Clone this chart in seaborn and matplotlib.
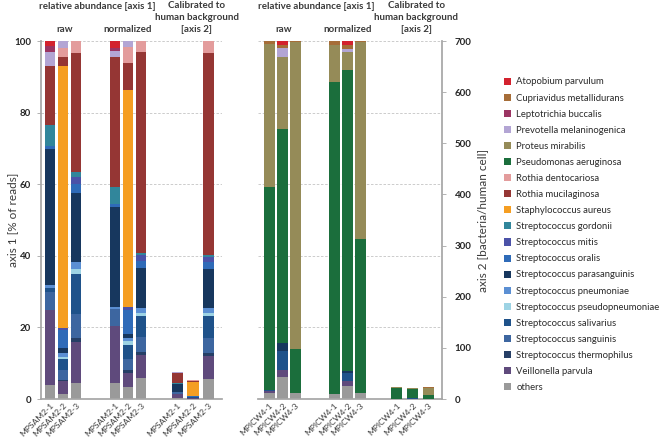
import numpy as np
import pandas as pd
import matplotlib
matplotlib.use("Agg")
import matplotlib.pyplot as plt
from matplotlib.patches import Patch
import seaborn as sns

# legend order (top of the stack first)
taxa = ["Atopobium parvulum", "Cupriavidus metallidurans", "Leptotrichia buccalis",
        "Prevotella melaninogenica", "Proteus mirabilis", "Pseudomonas aeruginosa",
        "Rothia dentocariosa", "Rothia mucilaginosa", "Staphylococcus aureus",
        "Streptococcus gordonii", "Streptococcus mitis", "Streptococcus oralis",
        "Streptococcus parasanguinis", "Streptococcus pneumoniae",
        "Streptococcus pseudopneumoniae", "Streptococcus salivarius",
        "Streptococcus sanguinis", "Streptococcus thermophilus",
        "Veillonella parvula", "others"]
colors = ["#d3222e", "#a66d38", "#9b3462", "#b3a5d4", "#958b58", "#1b6e3c",
          "#e39c9c", "#953634", "#f59e22", "#31869b", "#4b52a8", "#2f6bb8",
          "#17375e", "#5b8fd3", "#9dd3e4", "#1f528a", "#3d66a0", "#263f66",
          "#5f4a7c", "#9a9a9a"]

sam_labels = ["MPSAM2-1", "MPSAM2-2", "MPSAM2-3"]
icw_labels = ["MPICW4-1", "MPICW4-2", "MPICW4-3"]

# values per sample, same order as taxa
# MPSAM2, relative abundance (% of reads)
sam_raw_1 = [1.4, 0, 1.8, 3.8, 0, 0, 0, 16.6, 0, 5.8, 0, 0.9, 37.9, 0.8, 0, 1.0, 5.0, 0, 21.2, 3.8]
sam_raw_2 = [0, 0, 0, 2.0, 0, 0, 2.6, 2.3, 73.2, 0, 0.6, 5.0, 1.5, 1.0, 0.7, 3.0, 2.8, 0.4, 3.6, 1.3]
sam_raw_3 = [0, 0, 0, 0, 0, 0, 3.4, 33.3, 0, 1.2, 2.1, 2.5, 19.1, 2.2, 1.3, 11.2, 6.8, 1.1, 11.2, 4.6]
sam_norm_1 = [2.0, 0, 0.7, 1.9, 0, 0, 0, 36.3, 0, 4.6, 0, 0.8, 28.1, 0.5, 0, 0, 4.7, 0, 15.8, 4.6]
sam_norm_2 = [0, 0, 0, 1.6, 0, 0, 4.5, 7.6, 60.7, 0, 0.6, 6.9, 1.0, 0.9, 1.1, 4.0, 3.0, 0.7, 4.1, 3.3]
sam_norm_3 = [0, 0, 0, 0, 0, 0, 3.0, 56.1, 0, 0.6, 1.8, 2.0, 11.2, 1.2, 0.8, 6.1, 4.0, 0.9, 6.5, 5.8]
# MPSAM2, calibrated (bacteria / human cell)
sam_cal_1 = [1.0, 0, 0.5, 1.0, 0, 0, 0, 20.0, 0, 2.0, 0, 0.4, 15.5, 0.3, 0, 0, 2.5, 0, 8.5, 2.0]
sam_cal_2 = [0, 0, 0, 0.5, 0, 0, 1.5, 2.5, 27.0, 0, 0, 2.5, 0, 0.4, 0, 1.5, 0.8, 0, 0.8, 0.5]
sam_cal_3 = [0, 0, 0, 0, 0, 0, 23, 395, 0, 5, 10, 12, 78, 9, 6, 43, 29, 6, 44, 40]

# MPICW4, relative abundance (% of reads)
icw_raw_1 = [0, 0.8, 0, 0, 39.9, 56.8, 0, 0, 0, 0, 0, 0, 0, 0, 0, 0.3, 0, 0, 0.4, 1.8]
icw_raw_2 = [1.1, 0.8, 0, 2.5, 20.3, 59.7, 0, 0, 0, 0, 0, 0, 2.1, 0, 0, 5.4, 0, 0, 1.9, 6.2]
icw_raw_3 = [0, 0.4, 0, 0, 85.7, 12.3, 0, 0, 0, 0, 0, 0, 0, 0, 0, 0, 0, 0, 0, 1.6]
icw_norm_1 = [0, 1.1, 0, 0, 10.4, 87.1, 0, 0, 0, 0, 0, 0, 0, 0, 0, 0, 0, 0, 0, 1.4]
icw_norm_2 = [1.1, 1.2, 0, 0.9, 4.9, 84.0, 0, 0, 0, 0, 0, 0, 0.7, 0, 0, 2.3, 0, 0, 1.2, 3.7]
icw_norm_3 = [0, 0.4, 0, 0, 55.0, 42.8, 0, 0, 0, 0, 0, 0, 0, 0, 0, 0, 0, 0, 0, 1.8]
# MPICW4, calibrated (bacteria / human cell)
icw_cal_1 = [0, 0.7, 0, 0, 2.5, 20.5, 0, 0, 0, 0, 0, 0, 0, 0, 0, 0, 0, 0, 0, 0.3]
icw_cal_2 = [0.3, 0.3, 0, 0.2, 1.1, 18.3, 0, 0, 0, 0, 0, 0, 0.2, 0, 0, 0.5, 0, 0, 0.2, 0.7]
icw_cal_3 = [0, 1.2, 0, 0, 13.5, 7.5, 0, 0, 0, 0, 0, 0, 0, 0, 0, 0, 0, 0, 0, 0.4]

pos_rel = [0, 1, 2, 5, 6, 7]
pos_cal = [9.8, 11.0, 12.2]

sns.set_theme(style="white")
plt.rcParams["font.family"] = ["Lato", "DejaVu Sans"]
TXT = "#3a3a3a"
SPINE = "#a6a6a6"


def draw_stack(ax, samples, xpos, width):
    # overlay cumulative totals, tallest first, so each segment shows its own colour
    vals = np.array(samples, dtype=float)[:, ::-1]
    tops = np.cumsum(vals, axis=1)
    cols = colors[::-1]
    for k in range(len(taxa) - 1, -1, -1):
        df = pd.DataFrame({"x": xpos, "y": tops[:, k]})
        sns.barplot(data=df, x="x", y="y", native_scale=True, width=width,
                    color=cols[k], saturation=1, linewidth=0, errorbar=None, ax=ax)


def panel(rect, rel, cal, labels, xlim, right_axis):
    ax = fig.add_axes(rect)
    ax2 = ax.twinx()
    draw_stack(ax, rel, pos_rel, 0.8)
    draw_stack(ax2, cal, pos_cal, 0.85 / 1.2)

    ax.set_ylim(0, 100)
    ax2.set_ylim(0, 700)
    ax.set_xlim(*xlim)
    ax.set_xlabel("")
    ax.set_ylabel("")
    ax2.set_ylabel("")

    ax.set_yticks(range(0, 101, 20))
    ax.yaxis.grid(True, linestyle=(0, (3, 2)), color="#c4c4c4", linewidth=0.6)
    ax.xaxis.grid(False)
    ax.set_axisbelow(True)
    ax2.grid(False)

    ax.set_xticks(pos_rel + pos_cal)
    ax.set_xticklabels(labels * 3, rotation=45, ha="right", rotation_mode="anchor",
                       fontsize=6.1, color=TXT)
    ax.tick_params(axis="x", length=0, pad=2)

    for s in ["top", "right"]:
        ax.spines[s].set_visible(False)
    for s in ["top", "left", "bottom"]:
        ax2.spines[s].set_visible(False)
    ax.spines["bottom"].set_color(SPINE)
    ax.spines["left"].set_color(SPINE)
    ax2.spines["right"].set_color(SPINE)

    if right_axis:
        ax.spines["left"].set_visible(False)
        ax.tick_params(axis="y", left=False, labelleft=False)
        ax2.set_yticks(range(0, 701, 100))
        ax2.tick_params(axis="y", right=True, length=3, width=0.6, color=SPINE,
                        pad=6, labelsize=7, labelcolor="#262626")
        for t in ax2.get_yticklabels():
            t.set_fontweight("bold")
        ax2.set_ylabel("axis 2 [bacteria/human cell]", fontsize=8.5, color=TXT)
        ax2.yaxis.set_label_coords(1.19, 0.5)
    else:
        ax2.spines["right"].set_visible(False)
        ax2.set_yticks([])
        ax.tick_params(axis="y", left=True, length=3, width=0.6, color=SPINE,
                       pad=4, labelsize=7, labelcolor="#262626")
        for t in ax.get_yticklabels():
            t.set_fontweight("bold")
        ax.set_ylabel("axis 1 [% of reads]", fontsize=8.5, color=TXT)
        ax.yaxis.set_label_coords(-0.125, 0.5)

    tr = ax.get_xaxis_transform()
    hkw = dict(transform=tr, ha="center", va="center", fontsize=7, color=TXT,
               fontweight="bold", clip_on=False)
    ax.text(3.6, 1.095, "relative abundance [axis 1]", **hkw)
    ax.text(1.1, 1.031, "raw", **hkw)
    ax.text(6.0, 1.031, "normalized", **hkw)
    ax.text(11.3, 1.098, "Calibrated to", **hkw)
    ax.text(11.3, 1.065, "human background", **hkw)
    ax.text(11.3, 1.031, "[axis 2]", **hkw)
    return ax


fig = plt.figure(figsize=(6.6, 4.4), dpi=100)
panel([41 / 660, 41 / 440, 181 / 660, 358 / 440],
      [sam_raw_1, sam_raw_2, sam_raw_3, sam_norm_1, sam_norm_2, sam_norm_3],
      [sam_cal_1, sam_cal_2, sam_cal_3], sam_labels, (-0.69, 13.23), False)
panel([258 / 660, 41 / 440, 184 / 660, 358 / 440],
      [icw_raw_1, icw_raw_2, icw_raw_3, icw_norm_1, icw_norm_2, icw_norm_3],
      [icw_cal_1, icw_cal_2, icw_cal_3], icw_labels, (-0.885, 13.27), True)

handles = [Patch(facecolor=c, edgecolor="none") for c in colors]
leg = fig.legend(handles, taxa, loc="upper left", bbox_to_anchor=(0.763, 0.824),
                 frameon=False, fontsize=6.8, handlelength=0.78, handleheight=0.78,
                 handletextpad=0.55, labelspacing=0.75, borderpad=0, borderaxespad=0)
for t in leg.get_texts():
    t.set_color("#2a2a2a")

fig.savefig("out.png", dpi=100)
